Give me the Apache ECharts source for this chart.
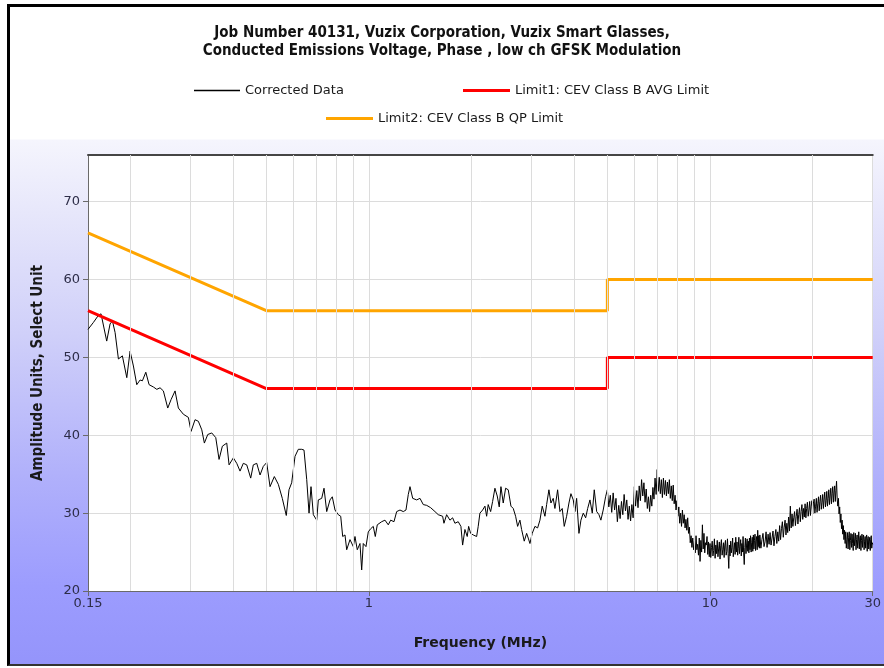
<!DOCTYPE html>
<html>
<head>
<meta charset="utf-8">
<title>Conducted Emissions</title>
<script src="https://cdn.jsdelivr.net/npm/echarts@6/dist/echarts.min.js"></script>
<style>
html, body { margin: 0; padding: 0; background: #fff; overflow: hidden; width: 884px; height: 668px; }
#frame {
    position: absolute; left: 7px; top: 4px; width: 900px; height: 662px;
    box-sizing: border-box;
    border-left: 3px solid #000; border-top: 3px solid #000; border-bottom: 2px solid #333;
    background: linear-gradient(to bottom, #fff 0, #fff 132px, #f5f5fd 133px, #e8e8fb 200px,
        #cfcff9 330px, #b0b0fb 470px, #9c9cfe 580px, #9494fb 662px);
}
#chart { position: absolute; left: 0; top: 0; width: 884px; height: 668px; }
</style>
</head>
<body>
<div id="frame"></div>
<div id="chart"></div>
<script>
// sweep frequencies (MHz) and corrected level
var freqMHz = [
    0.150, 0.1556, 0.1609, 0.1638, 0.1702, 0.1741, 0.1769, 0.1801, 0.1842, 0.1892,
    0.1949, 0.1993, 0.2038, 0.2085, 0.2132, 0.2166, 0.2216, 0.2266, 0.2333, 0.2387,
    0.2440, 0.2495, 0.2570, 0.2629, 0.2700, 0.2761, 0.2856, 0.2954, 0.3008, 0.3090,
    0.3160, 0.3234, 0.3291, 0.3367, 0.3459, 0.3554, 0.3634, 0.3716, 0.3828, 0.3888,
    0.4002, 0.4095, 0.4187, 0.4281, 0.4381, 0.4500, 0.4580, 0.4687, 0.4793, 0.4898,
    0.5012, 0.5127, 0.5278, 0.5422, 0.5570, 0.5722, 0.5827, 0.5934, 0.6069, 0.6206,
    0.6350, 0.6449, 0.6568, 0.6672, 0.6761, 0.6868, 0.7027, 0.7103, 0.7268, 0.7382,
    0.7517, 0.7686, 0.7806, 0.7951, 0.8128, 0.8262, 0.8374, 0.8505, 0.8603, 0.8797,
    0.8996, 0.9098, 0.9240, 0.9410, 0.9519, 0.9622, 0.9799, 0.9953, 1.0116, 1.0294,
    1.0435, 1.0576, 1.0894, 1.1140, 1.1390, 1.1577, 1.1839, 1.2057, 1.2329, 1.2605,
    1.2837, 1.3040, 1.3191, 1.3433, 1.3800, 1.4111, 1.4428, 1.4763, 1.5166, 1.5612,
    1.5964, 1.6443, 1.6588, 1.6892, 1.7273, 1.7590, 1.7865, 1.8267, 1.8602, 1.8817,
    1.9114, 1.9413, 1.9597, 1.9865, 2.0216, 2.0686, 2.0907, 2.1149, 2.1538, 2.1878,
    2.2131, 2.2367, 2.2736, 2.3042, 2.3406, 2.3771, 2.4096, 2.4375, 2.4754, 2.5157,
    2.5606, 2.6077, 2.6488, 2.6915, 2.7280, 2.7710, 2.8025, 2.8528, 2.8992, 2.9307,
    2.9646, 3.0108, 3.0661, 3.1225, 3.1717, 3.2211, 3.2804, 3.3184, 3.3700, 3.4160,
    3.4692, 3.5094, 3.5738, 3.6302, 3.6868, 3.7373, 3.7981, 3.8580, 3.9101, 3.9718,
    4.0177, 4.0633, 4.1275, 4.1831, 4.2493, 4.3185, 4.3776, 4.4459, 4.5161, 4.5770,
    4.6525, 4.7250, 4.7863, 4.8615, 4.9406,
    5.00, 5.05, 5.10, 5.15, 5.20, 5.25, 5.30, 5.35, 5.40, 5.45,
    5.50, 5.55, 5.60, 5.65, 5.70, 5.75, 5.80, 5.85, 5.90, 5.95,
    6.00, 6.05, 6.10, 6.15, 6.20, 6.25, 6.30, 6.35, 6.40, 6.45,
    6.50, 6.55, 6.60, 6.65, 6.70, 6.75, 6.80, 6.85, 6.90, 6.95,
    7.00, 7.05, 7.10, 7.15, 7.20, 7.25, 7.30, 7.35, 7.40, 7.45,
    7.50, 7.55, 7.60, 7.65, 7.70, 7.75, 7.80, 7.85, 7.90, 7.95,
    8.00, 8.05, 8.10, 8.15, 8.20, 8.25, 8.30, 8.35, 8.40, 8.45,
    8.50, 8.55, 8.60, 8.65, 8.70, 8.75, 8.80, 8.85, 8.90, 8.95,
    9.00, 9.05, 9.10, 9.15, 9.20, 9.25, 9.30, 9.35, 9.40, 9.45,
    9.50, 9.55, 9.60, 9.65, 9.70, 9.75, 9.80, 9.85, 9.90, 9.95,
    10.00, 10.05, 10.10, 10.15, 10.20, 10.25, 10.30, 10.35, 10.40, 10.45,
    10.50, 10.55, 10.60, 10.65, 10.70, 10.75, 10.80, 10.85, 10.90, 10.95,
    11.00, 11.05, 11.10, 11.15, 11.20, 11.25, 11.30, 11.35, 11.40, 11.45,
    11.50, 11.55, 11.60, 11.65, 11.70, 11.75, 11.80, 11.85, 11.90, 11.95,
    12.00, 12.05, 12.10, 12.15, 12.20, 12.25, 12.30, 12.35, 12.40, 12.45,
    12.50, 12.55, 12.60, 12.65, 12.70, 12.75, 12.80, 12.85, 12.90, 12.95,
    13.00, 13.05, 13.10, 13.15, 13.20, 13.25, 13.30, 13.35, 13.40, 13.45,
    13.50, 13.55, 13.60, 13.65, 13.70, 13.75, 13.80, 13.85, 13.90, 13.95,
    14.0, 14.1, 14.2, 14.3, 14.4, 14.5, 14.6, 14.7, 14.8, 14.9,
    15.0, 15.1, 15.2, 15.3, 15.4, 15.5, 15.6, 15.7, 15.8, 15.9,
    16.0, 16.1, 16.2, 16.3, 16.4, 16.5, 16.6, 16.7, 16.8, 16.9,
    17.0, 17.1, 17.2, 17.3, 17.4, 17.5, 17.6, 17.7, 17.8, 17.9,
    18.0, 18.1, 18.2, 18.3, 18.4, 18.5, 18.6, 18.7, 18.8, 18.9,
    19.0, 19.1, 19.2, 19.3, 19.4, 19.5, 19.6, 19.7, 19.8, 19.9,
    20.0, 20.1, 20.2, 20.3, 20.4, 20.5, 20.6, 20.7, 20.8, 20.9,
    21.0, 21.1, 21.2, 21.3, 21.4, 21.5, 21.6, 21.7, 21.8, 21.9,
    22.0, 22.1, 22.2, 22.3, 22.4, 22.5, 22.6, 22.7, 22.8, 22.9,
    23.0, 23.1, 23.2, 23.3, 23.4, 23.5, 23.6, 23.7, 23.8, 23.9,
    24.0, 24.1, 24.2, 24.3, 24.4, 24.5, 24.6, 24.7, 24.8, 24.9,
    25.0, 25.1, 25.2, 25.3, 25.4, 25.5, 25.6, 25.7, 25.8, 25.9,
    26.0, 26.1, 26.2, 26.3, 26.4, 26.5, 26.6, 26.7, 26.8, 26.9,
    27.0, 27.1, 27.2, 27.3, 27.4, 27.5, 27.6, 27.7, 27.8, 27.9,
    28.0, 28.1, 28.2, 28.3, 28.4, 28.5, 28.6, 28.7, 28.8, 28.9,
    29.0, 29.1, 29.2, 29.3, 29.4, 29.5, 29.6, 29.7, 29.8, 29.9,
    30.0
];
var correctedData = [
    53.6, 54.5, 55.4, 55.6, 52.1, 54.3, 54.7, 53.2, 49.8, 50.2,
    47.4, 50.8, 48.9, 46.5, 47.1, 47.0, 48.1, 46.5, 46.2, 45.9,
    46.1, 45.7, 43.5, 44.6, 45.7, 43.5, 42.7, 42.3, 40.5, 42.0,
    41.8, 40.7, 39.0, 40.1, 40.3, 39.7, 36.9, 38.6, 39.0, 36.2,
    37.1, 36.4, 35.4, 36.4, 36.2, 34.5, 36.2, 36.4, 34.9, 36.0,
    36.5, 33.4, 34.7, 33.7, 31.9, 29.7, 33.0, 33.9, 37.3, 38.2,
    38.2, 38.1, 34.3, 30.0, 33.4, 29.8, 29.1, 31.7, 31.9, 33.2,
    30.2, 31.7, 32.1, 30.4, 29.8, 29.6, 27.0, 27.2, 25.3, 26.6,
    25.7, 27.0, 25.3, 26.1, 22.7, 26.1, 25.7, 27.6, 28.0, 28.3,
    27.0, 28.5, 28.9, 29.1, 28.5, 29.1, 28.9, 30.2, 30.4, 30.2,
    30.4, 32.4, 33.4, 31.9, 31.7, 31.9, 31.1, 31.0, 30.7, 30.2,
    29.8, 29.6, 28.7, 29.8, 29.1, 29.4, 28.7, 28.9, 28.3, 25.9,
    27.9, 27.0, 28.3, 27.4, 27.2, 27.0, 28.3, 30.0, 30.4, 30.9,
    29.6, 31.1, 30.2, 31.5, 33.2, 32.2, 30.8, 33.4, 31.3, 33.2,
    33.0, 30.9, 30.6, 29.6, 28.3, 29.1, 27.9, 26.4, 27.4, 26.8,
    26.1, 27.4, 28.3, 28.1, 29.1, 30.9, 29.6, 31.1, 33.0, 31.3,
    31.9, 30.6, 33.0, 30.2, 30.6, 28.3, 29.6, 31.3, 32.5, 31.7,
    30.2, 31.9, 27.4, 29.1, 30.0, 29.4, 30.6, 31.7, 30.0, 33.0,
    30.2, 29.8, 29.1, 30.4, 32.1,
    33.0, 30.8, 32.3, 30.1, 32.6, 30.4, 31.9, 28.9, 31.0, 29.3,
    31.5, 29.8, 32.4, 30.3, 31.7, 29.2, 30.9, 29.0, 31.1, 29.4,
    33.4, 30.9, 32.9, 30.7, 33.5, 31.6, 34.3, 32.2, 33.9, 31.4,
    33.1, 30.6, 32.1, 30.2, 32.3, 30.9, 33.3, 31.8, 34.5, 32.4,
    35.6, 32.8, 34.6, 32.5, 34.3, 32.0, 34.5, 32.4, 34.2, 32.2,
    34.0, 32.5, 34.3, 31.9, 33.5, 31.6, 33.6, 31.2, 32.3, 30.4,
    31.6, 29.6, 30.8, 28.7, 30.0, 28.3, 30.4, 28.7, 29.8, 28.1,
    29.2, 27.8, 29.4, 27.4, 28.2, 26.2, 27.1, 25.6, 26.8, 25.3,
    26.4, 24.9, 27.1, 25.3, 26.0, 24.6, 26.8, 23.8, 26.5, 25.0,
    28.5, 25.4, 27.4, 24.9, 26.2, 25.9, 27.0, 24.7, 26.3, 24.4,
    26.1, 24.3, 25.6, 26.4, 24.5, 25.2, 26.7, 24.2, 25.9, 24.8,
    26.5, 24.4, 25.4, 26.3, 24.1, 25.8, 26.6, 24.6, 25.3, 26.2,
    24.3, 25.9, 26.5, 24.6, 25.1, 26.7, 24.8, 22.9, 25.9, 24.5,
    26.4, 24.9, 25.6, 26.8, 24.4, 25.3, 26.2, 24.7, 26.9, 25.0,
    26.3, 24.6, 25.5, 26.9, 24.8, 25.7, 26.6, 24.5, 26.1, 25.0,
    27.0, 24.9, 23.4, 25.6, 26.8, 24.8, 25.9, 26.7, 25.1, 26.4,
    24.9, 26.8, 25.3, 27.1, 25.0, 26.2, 26.9, 25.1, 27.2, 25.4,
    26.5, 27.3, 25.2, 26.4, 27.0, 25.3, 27.8, 25.7, 27.1, 25.5,
    27.2, 25.5, 26.6, 27.4, 25.7, 26.3, 27.6, 25.6, 27.3, 26.0,
    27.5, 25.9, 26.8, 27.7, 25.8, 27.0, 27.9, 26.1, 27.6, 26.4,
    28.4, 26.6, 28.0, 28.9, 26.9, 28.2, 29.1, 27.2, 28.7, 27.5,
    29.5, 27.7, 30.9, 28.1, 29.9, 28.3, 29.4, 30.2, 28.4, 29.6,
    30.5, 28.6, 29.8, 30.7, 28.9, 30.2, 31.1, 29.2, 30.6, 29.5,
    31.2, 29.4, 30.6, 31.4, 29.6, 30.4, 31.5, 29.7, 30.9, 31.6,
    29.9, 31.3, 31.8, 30.0, 30.9, 31.9, 30.1, 31.2, 32.1, 30.3,
    31.5, 32.3, 30.5, 31.4, 32.4, 30.6, 31.8, 32.7, 30.8, 31.6,
    32.8, 30.9, 31.9, 33.0, 31.1, 32.2, 33.2, 31.2, 32.5, 33.4,
    31.4, 32.7, 33.5, 31.5, 32.9, 34.1, 31.8, 30.9, 31.9, 29.9,
    30.8, 28.8, 29.9, 28.0, 29.1, 27.3, 28.4, 26.6, 27.8, 26.1,
    27.6, 25.5, 26.6, 27.5, 25.4, 26.9, 27.6, 25.3, 26.5, 27.4,
    25.6, 27.3, 26.1, 25.2, 27.5, 25.8, 26.7, 27.4, 25.3, 26.6,
    27.2, 25.5, 26.3, 27.6, 25.4, 26.8, 27.1, 25.2, 26.5, 27.3,
    25.6, 26.9, 27.2, 25.3, 26.4, 27.0, 25.5, 26.8, 27.2, 25.1,
    26.7, 27.0, 25.4, 26.3, 26.9, 25.2, 26.6, 27.1, 25.5, 26.2,
    26.0
];

// limit lines (class B), step at 5 MHz
var limitFreq = [0.15, 0.5, 5, 5, 30];
var limit1Avg = [56, 46, 46, 50, 50];
var limit2Qp = [66, 56, 56, 60, 60];

// minor log grid lines between decades
var minorGridFreq = [0.2, 0.3, 0.4, 0.5, 0.6, 0.7, 0.8, 0.9, 2, 3, 4, 5, 6, 7, 8, 9, 20];

var seriesNames = ["Corrected Data", "Limit1: CEV Class B AVG Limit", "Limit2: CEV Class B QP Limit"];

function zip(xs, ys) {
    var out = [];
    for (var i = 0; i < xs.length && i < ys.length; i++) {
        out.push([xs[i], ys[i]]);
    }
    return out;
}

var chart = echarts.init(document.getElementById("chart"));

var legendText = {fontFamily: "DejaVu Sans", fontSize: 13, color: "#1a1a1a"};

var option = {
    animation: false,
    backgroundColor: "transparent",
    title: {
        text: "Job Number 40131, Vuzix Corporation, Vuzix Smart Glasses,\nConducted Emissions Voltage, Phase , low ch GFSK Modulation",
        left: "center",
        top: 19,
        textStyle: {
            fontFamily: "DejaVu Sans Condensed",
            fontWeight: "bold",
            fontSize: 15,
            lineHeight: 18,
            color: "#111"
        }
    },
    legend: [
        {
            data: [seriesNames[0]], left: 194, top: 84, padding: 0,
            icon: "rect", itemWidth: 46, itemHeight: 1.5, textStyle: legendText
        },
        {
            data: [seriesNames[1]], left: 463, top: 84, padding: 0,
            icon: "rect", itemWidth: 47, itemHeight: 3, textStyle: legendText
        },
        {
            data: [seriesNames[2]], left: 326, top: 112, padding: 0,
            icon: "rect", itemWidth: 47, itemHeight: 3, textStyle: legendText
        }
    ],
    grid: {
        left: 88,
        right: 11,
        top: 155,
        bottom: 77,
        show: true,
        backgroundColor: "#fff",
        borderWidth: 0
    },
    xAxis: [
        {
            type: "log",
            logBase: 10,
            min: 0.15,
            max: 30,
            name: "Frequency (MHz)",
            nameLocation: "middle",
            nameGap: 45,
            nameTextStyle: {fontFamily: "DejaVu Sans", fontWeight: "bold", fontSize: 14, color: "#1a1a1a"},
            axisLine: {lineStyle: {color: "#6a6a6a", width: 1}},
            axisTick: {show: true, length: 5, lineStyle: {color: "#6a6a6a"}},
            axisLabel: {
                fontFamily: "DejaVu Sans",
                fontSize: 13,
                color: "#2d2d48",
                margin: 6,
                formatter: function (v) {
                    return String(parseFloat(Number(v).toPrecision(3)));
                }
            },
            splitLine: {show: true, lineStyle: {color: "#dcdcdc", width: 1}}
        },
        {
            type: "log",
            logBase: 10,
            min: 0.15,
            max: 30,
            position: "top",
            axisLine: {lineStyle: {color: "#454545", width: 2}},
            axisTick: {show: false},
            axisLabel: {show: false},
            splitLine: {show: false}
        }
    ],
    yAxis: {
        type: "value",
        min: 20,
        max: 76,
        interval: 10,
        name: "Amplitude Units, Select Unit",
        nameLocation: "middle",
        nameGap: 42,
        nameTextStyle: {fontFamily: "DejaVu Sans Condensed", fontWeight: "bold", fontSize: 15, color: "#1a1a1a"},
        axisLine: {show: true, lineStyle: {color: "#6a6a6a", width: 1}},
        axisTick: {show: true, length: 5, lineStyle: {color: "#6a6a6a"}},
        axisLabel: {
            fontFamily: "DejaVu Sans",
            fontSize: 13,
            color: "#2d2d48",
            margin: 8,
            showMaxLabel: false
        },
        splitLine: {show: true, lineStyle: {color: "#dcdcdc", width: 1}}
    },
    series: [
        {
            name: "minor-grid",
            type: "line",
            data: [],
            z: 1,
            silent: true,
            markLine: {
                silent: true,
                symbol: ["none", "none"],
                label: {show: false},
                lineStyle: {color: "#dcdcdc", width: 1, type: "solid"},
                emphasis: {disabled: true},
                data: minorGridFreq.map(function (f) { return {xAxis: f}; })
            }
        },
        {
            name: seriesNames[0],
            type: "line",
            data: zip(freqMHz, correctedData),
            showSymbol: false,
            z: 3,
            itemStyle: {color: "#000"},
            lineStyle: {color: "#000", width: 1}
        },
        {
            name: seriesNames[1],
            type: "line",
            data: zip(limitFreq, limit1Avg),
            showSymbol: false,
            z: 4,
            itemStyle: {color: "#ff0000"},
            lineStyle: {color: "#ff0000", width: 3}
        },
        {
            name: seriesNames[2],
            type: "line",
            data: zip(limitFreq, limit2Qp),
            showSymbol: false,
            z: 4,
            itemStyle: {color: "#ffa500"},
            lineStyle: {color: "#ffa500", width: 3}
        }
    ]
};

chart.setOption(option);
</script>
</body>
</html>
